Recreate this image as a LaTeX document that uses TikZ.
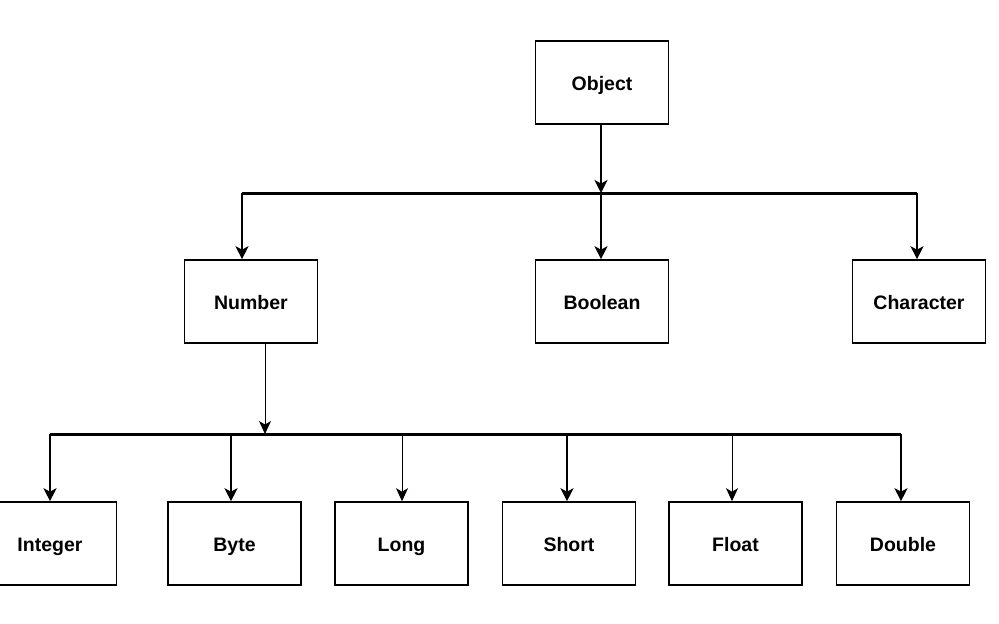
\documentclass[tikz,border=0pt]{standalone}
\usepackage{fontspec}
\setmainfont{Liberation Sans}
\usetikzlibrary{arrows.meta}
\begin{document}
\begin{tikzpicture}[x=1pt,y=-1pt,
  box/.style={draw, line width=1.6pt, minimum width=133pt, minimum height=83pt, inner sep=0pt,
    text height=15pt, text depth=0pt,
    font=\fontsize{19.5}{22}\selectfont\bfseries},
  bus/.style={line width=3pt},
  thickarrow/.style={line width=2pt, -{Stealth[length=13pt,width=13pt,inset=3.5pt]}},
  thinarrow/.style={line width=1pt, -{Stealth[length=13pt,width=12pt,inset=3.5pt]}}]
\useasboundingbox (0,0) rectangle (999,624);
\node[box] (obj) at (602,82.5) {Object};
\node[box] (num) at (251,301.5) {Number};
\node[box] (boo) at (602,301.5) {Boolean};
\node[box] (chr) at (919,301.5) {Character};
\node[box] (int) at (50,543.5) {Integer};
\node[box] (byt) at (234.5,543.5) {Byte};
\node[box] (lon) at (401.5,543.5) {Long};
\node[box] (sho) at (569,543.5) {Short};
\node[box] (flo) at (735.5,543.5) {Float};
\node[box] (dou) at (903,543.5) {Double};
% first level
\coordinate (b1) at (601,193);
\coordinate (b1l) at (242,193);
\coordinate (b1r) at (917,193);
\draw[bus] (b1l) -- (b1r);
\draw[thickarrow] (obj.south -| b1) -- (b1);
\draw[thickarrow] (b1l) -- (b1l |- num.north);
\draw[thickarrow] (b1) -- (b1 |- boo.north);
\draw[thickarrow] (b1r) -- (b1r |- chr.north);
% second level
\coordinate (b2) at (265,434);
\coordinate (b2l) at (50,434);
\coordinate (b2r) at (901,434);
\draw[bus] (b2l) -- (b2r);
\draw[thinarrow] (num.south -| b2) -- (b2);
\coordinate (cb) at (231,434);
\coordinate (cl) at (402,434);
\coordinate (cs) at (567,434);
\coordinate (cf) at (732,434);
\draw[thickarrow] (b2l) -- (b2l |- int.north);
\draw[thickarrow] (cb) -- (cb |- byt.north);
\draw[thinarrow] (cl) -- (cl |- lon.north);
\draw[thickarrow] (cs) -- (cs |- sho.north);
\draw[thinarrow] (cf) -- (cf |- flo.north);
\draw[thickarrow] (b2r) -- (b2r |- dou.north);
\end{tikzpicture}
\end{document}
